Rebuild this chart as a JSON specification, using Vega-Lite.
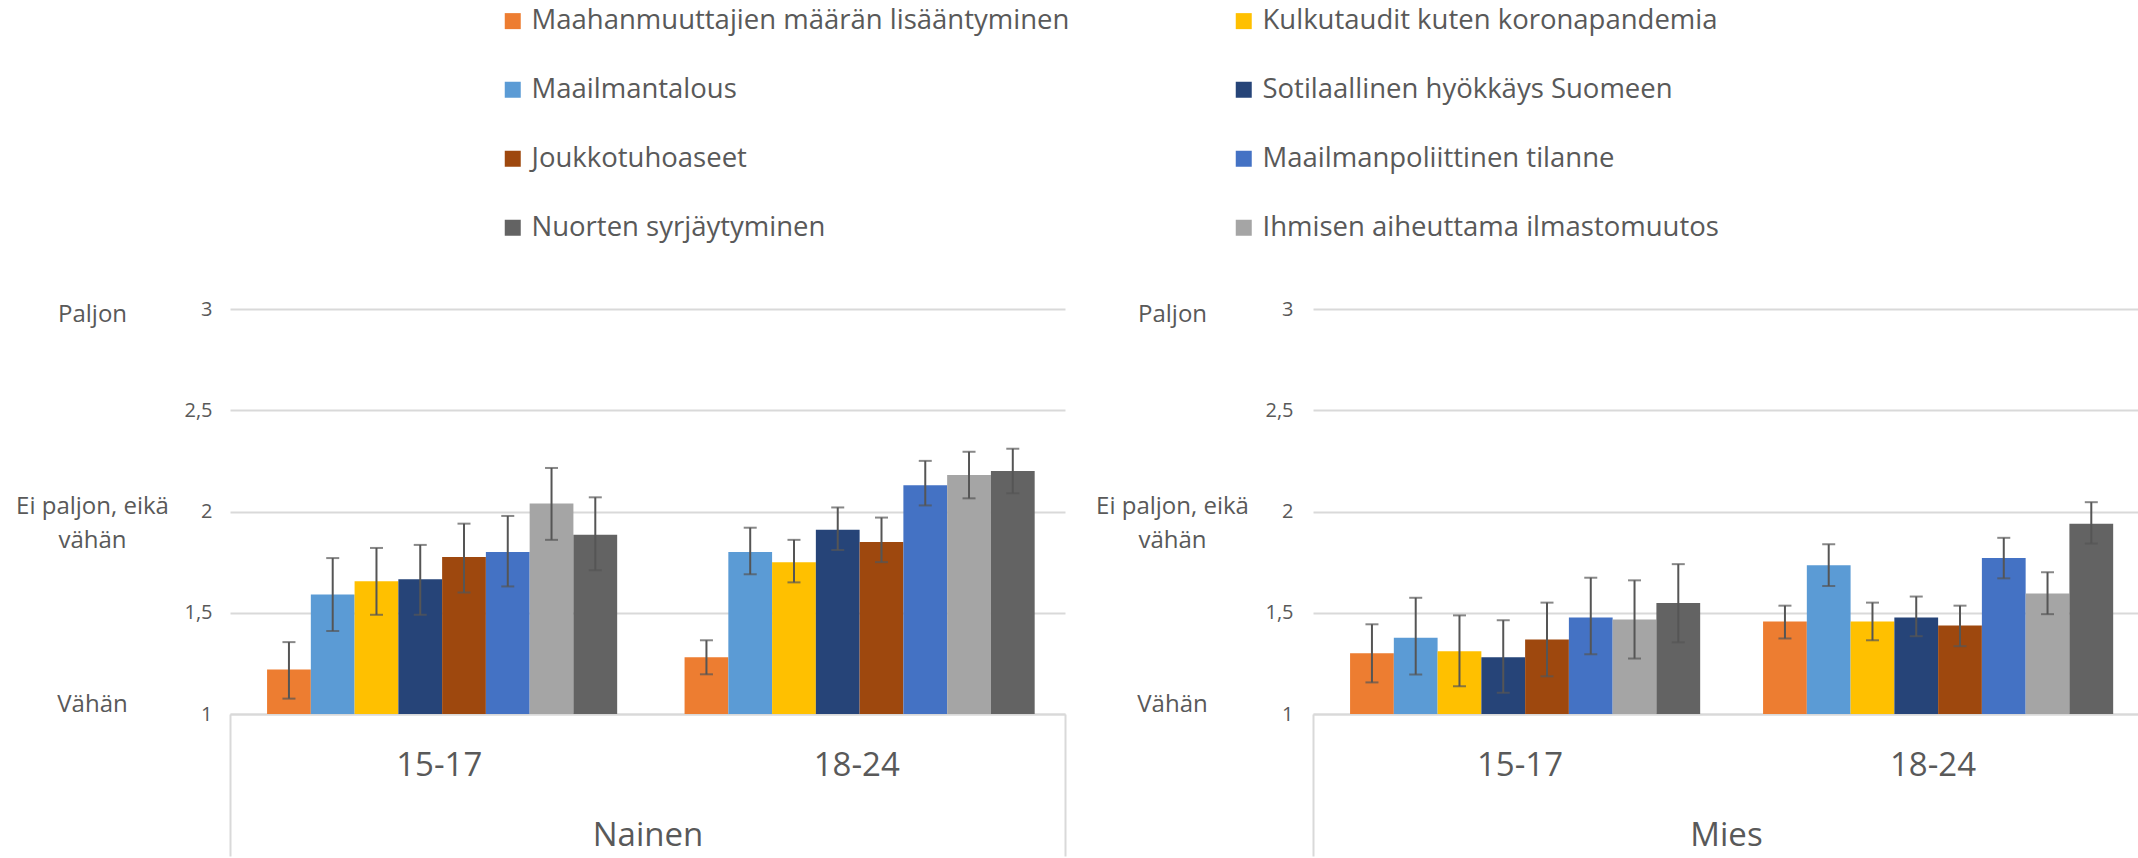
{
  "$schema": "https://vega.github.io/schema/vega-lite/v6.json",
  "padding": {"left": 15, "top": 7, "right": 0, "bottom": 0},
  "background": "white",
  "config": {
    "font": "Open Sans",
    "view": {"stroke": null},
    "axis": {"labelFont": "Open Sans", "titleFont": "Open Sans"},
    "legend": {"labelFont": "Open Sans"}
  },
  "datasets": {
    "d": [
      {"g": "Nainen", "a": "15-17", "s": "Maahanmuuttajien määrän lisääntyminen", "v": 1.22, "lo": 1.076, "hi": 1.355},
      {"g": "Nainen", "a": "15-17", "s": "Maailmantalous", "v": 1.59, "lo": 1.41, "hi": 1.77},
      {"g": "Nainen", "a": "15-17", "s": "Kulkutaudit kuten koronapandemia", "v": 1.655, "lo": 1.49, "hi": 1.82},
      {"g": "Nainen", "a": "15-17", "s": "Sotilaallinen hyökkäys Suomeen", "v": 1.665, "lo": 1.49, "hi": 1.835},
      {"g": "Nainen", "a": "15-17", "s": "Joukkotuhoaseet", "v": 1.775, "lo": 1.6, "hi": 1.94},
      {"g": "Nainen", "a": "15-17", "s": "Maailmanpoliittinen tilanne", "v": 1.8, "lo": 1.63, "hi": 1.978},
      {"g": "Nainen", "a": "15-17", "s": "Ihmisen aiheuttama ilmastomuutos", "v": 2.04, "lo": 1.86, "hi": 2.215},
      {"g": "Nainen", "a": "15-17", "s": "Nuorten syrjäytyminen", "v": 1.885, "lo": 1.71, "hi": 2.07},
      {"g": "Nainen", "a": "18-24", "s": "Maahanmuuttajien määrän lisääntyminen", "v": 1.28, "lo": 1.196, "hi": 1.364},
      {"g": "Nainen", "a": "18-24", "s": "Maailmantalous", "v": 1.8, "lo": 1.69, "hi": 1.92},
      {"g": "Nainen", "a": "18-24", "s": "Kulkutaudit kuten koronapandemia", "v": 1.75, "lo": 1.65, "hi": 1.86},
      {"g": "Nainen", "a": "18-24", "s": "Sotilaallinen hyökkäys Suomeen", "v": 1.91, "lo": 1.81, "hi": 2.02},
      {"g": "Nainen", "a": "18-24", "s": "Joukkotuhoaseet", "v": 1.85, "lo": 1.75, "hi": 1.97},
      {"g": "Nainen", "a": "18-24", "s": "Maailmanpoliittinen tilanne", "v": 2.13, "lo": 2.03, "hi": 2.25},
      {"g": "Nainen", "a": "18-24", "s": "Ihmisen aiheuttama ilmastomuutos", "v": 2.18, "lo": 2.065, "hi": 2.295},
      {"g": "Nainen", "a": "18-24", "s": "Nuorten syrjäytyminen", "v": 2.2, "lo": 2.09, "hi": 2.31},
      {"g": "Mies", "a": "15-17", "s": "Maahanmuuttajien määrän lisääntyminen", "v": 1.3, "lo": 1.156, "hi": 1.443},
      {"g": "Mies", "a": "15-17", "s": "Maailmantalous", "v": 1.376, "lo": 1.195, "hi": 1.574},
      {"g": "Mies", "a": "15-17", "s": "Kulkutaudit kuten koronapandemia", "v": 1.31, "lo": 1.137, "hi": 1.487},
      {"g": "Mies", "a": "15-17", "s": "Sotilaallinen hyökkäys Suomeen", "v": 1.28, "lo": 1.105, "hi": 1.463},
      {"g": "Mies", "a": "15-17", "s": "Joukkotuhoaseet", "v": 1.368, "lo": 1.186, "hi": 1.55},
      {"g": "Mies", "a": "15-17", "s": "Maailmanpoliittinen tilanne", "v": 1.477, "lo": 1.295, "hi": 1.673},
      {"g": "Mies", "a": "15-17", "s": "Ihmisen aiheuttama ilmastomuutos", "v": 1.467, "lo": 1.274, "hi": 1.66},
      {"g": "Mies", "a": "15-17", "s": "Nuorten syrjäytyminen", "v": 1.548, "lo": 1.354, "hi": 1.74},
      {"g": "Mies", "a": "18-24", "s": "Maahanmuuttajien määrän lisääntyminen", "v": 1.457, "lo": 1.373, "hi": 1.535},
      {"g": "Mies", "a": "18-24", "s": "Maailmantalous", "v": 1.734, "lo": 1.632, "hi": 1.838},
      {"g": "Mies", "a": "18-24", "s": "Kulkutaudit kuten koronapandemia", "v": 1.457, "lo": 1.364, "hi": 1.55},
      {"g": "Mies", "a": "18-24", "s": "Sotilaallinen hyökkäys Suomeen", "v": 1.477, "lo": 1.384, "hi": 1.58},
      {"g": "Mies", "a": "18-24", "s": "Joukkotuhoaseet", "v": 1.437, "lo": 1.335, "hi": 1.535},
      {"g": "Mies", "a": "18-24", "s": "Maailmanpoliittinen tilanne", "v": 1.77, "lo": 1.67, "hi": 1.87},
      {"g": "Mies", "a": "18-24", "s": "Ihmisen aiheuttama ilmastomuutos", "v": 1.595, "lo": 1.493, "hi": 1.7},
      {"g": "Mies", "a": "18-24", "s": "Nuorten syrjäytyminen", "v": 1.94, "lo": 1.842, "hi": 2.046}
    ]
  },
  "data": {"name": "d"},
  "bounds": "flush",
  "spacing": 248,
  "hconcat": [
    {
      "width": 835,
      "height": 405,
      "transform": [{"filter": "datum.g === 'Nainen'"}],
      "layer": [
        {
          "layer": [
            {
              "mark": {"type": "bar"},
              "encoding": {
                "x": {"field": "a", "type": "nominal", "title": "Nainen",
                  "scale": {"paddingInner": 0, "paddingOuter": 0},
                  "axis": {"labelAngle": 0, "labelFontSize": 33, "labelColor": "#595959", "labelPadding": -107,
                    "titleFontSize": 33, "titleFontWeight": "normal", "titleColor": "#595959", "titlePadding": -38,
                    "domainColor": "#d9d9d9", "domainWidth": 2, "tickBand": "extent", "tickSize": 142, "tickWidth": 2,
                    "tickColor": {"condition": {"test": "datum.index == 0", "value": "rgba(0,0,0,0)"}, "value": "#d9d9d9"}}},
                "xOffset": {"field": "s", "type": "nominal",
                  "scale": {"domain": ["Maahanmuuttajien määrän lisääntyminen", "Maailmantalous", "Kulkutaudit kuten koronapandemia", "Sotilaallinen hyökkäys Suomeen", "Joukkotuhoaseet", "Maailmanpoliittinen tilanne", "Ihmisen aiheuttama ilmastomuutos", "Nuorten syrjäytyminen"], "paddingInner": 0, "paddingOuter": 0.77}},
                "y": {"field": "v", "type": "quantitative", "title": null,
                  "scale": {"domain": [1, 3], "nice": false, "zero": false},
                  "axis": {"values": [1, 1.5, 2, 2.5, 3], "labelExpr": "replace(toString(datum.value), '.', ',')",
                    "ticks": false, "domain": false, "grid": true, "gridColor": "#d9d9d9", "gridWidth": 2,
                    "labelFontSize": 20, "labelColor": "#595959", "labelPadding": 18}},
                "y2": {"datum": 1},
                "color": {"field": "s", "type": "nominal",
                  "scale": {"domain": ["Maahanmuuttajien määrän lisääntyminen", "Maailmantalous", "Joukkotuhoaseet", "Nuorten syrjäytyminen", "Kulkutaudit kuten koronapandemia", "Sotilaallinen hyökkäys Suomeen", "Maailmanpoliittinen tilanne", "Ihmisen aiheuttama ilmastomuutos"],
                    "range": ["#ED7D31", "#5B9BD5", "#9E480E", "#636363", "#FFC000", "#264478", "#4472C4", "#A5A5A5"]},
                  "legend": {"orient": "none", "legendX": 269, "legendY": -302, "columns": 2, "title": null,
                    "symbolType": "square", "symbolSize": 256, "symbolStrokeWidth": 0,
                    "labelFontSize": 27.5, "labelColor": "#595959", "labelLimit": 2000, "labelOffset": 5,
                    "rowPadding": 40, "columnPadding": 160, "padding": 0}}
              }
            },
            {
              "mark": {"type": "rule", "color": "#555555", "strokeWidth": 2},
              "encoding": {
                "x": {"field": "a", "type": "nominal", "title": "Nainen"},
                "xOffset": {"field": "s", "type": "nominal"},
                "y": {"field": "lo", "type": "quantitative", "title": null},
                "y2": {"field": "hi"}
              }
            },
            {
              "mark": {"type": "tick", "color": "#555555", "thickness": 2, "size": 13},
              "encoding": {
                "x": {"field": "a", "type": "nominal", "title": "Nainen"},
                "xOffset": {"field": "s", "type": "nominal"},
                "y": {"field": "lo", "type": "quantitative", "title": null}
              }
            },
            {
              "mark": {"type": "tick", "color": "#555555", "thickness": 2, "size": 13},
              "encoding": {
                "x": {"field": "a", "type": "nominal", "title": "Nainen"},
                "xOffset": {"field": "s", "type": "nominal"},
                "y": {"field": "hi", "type": "quantitative", "title": null}
              }
            }
          ]
        },
        {
          "mark": {"type": "point", "opacity": 0},
          "encoding": {
            "y": {"field": "v", "type": "quantitative", "title": null,
              "scale": {"domain": [1, 3], "nice": false, "zero": false},
              "axis": {"orient": "left", "values": [1, 2, 3],
                "labelExpr": "datum.value == 3 ? 'Paljon' : datum.value == 2 ? ['Ei paljon, eikä', 'vähän'] : 'Vähän'",
                "ticks": false, "domain": false, "grid": false, "labelFontSize": 24, "labelColor": "#595959",
                "labelAlign": "center", "labelPadding": 138, "labelLineHeight": 34,
                "labelOffset": {"condition": [{"test": "datum.value == 3", "value": 5}, {"test": "datum.value == 2", "value": -5}], "value": -10}}}
          }
        }
      ],
      "resolve": {"scale": {"y": "independent"}}
    },
    {
      "width": 826,
      "height": 405,
      "transform": [{"filter": "datum.g === 'Mies'"}],
      "layer": [
        {
          "layer": [
            {
              "mark": {"type": "bar"},
              "encoding": {
                "x": {"field": "a", "type": "nominal", "title": "Mies",
                  "scale": {"paddingInner": 0, "paddingOuter": 0},
                  "axis": {"labelAngle": 0, "labelFontSize": 33, "labelColor": "#595959", "labelPadding": -107,
                    "titleFontSize": 33, "titleFontWeight": "normal", "titleColor": "#595959", "titlePadding": -38,
                    "domainColor": "#d9d9d9", "domainWidth": 2, "tickBand": "extent", "tickSize": 142, "tickWidth": 2,
                    "tickColor": {"condition": {"test": "datum.index >= 0", "value": "rgba(0,0,0,0)"}, "value": "#d9d9d9"}}},
                "xOffset": {"field": "s", "type": "nominal",
                  "scale": {"domain": ["Maahanmuuttajien määrän lisääntyminen", "Maailmantalous", "Kulkutaudit kuten koronapandemia", "Sotilaallinen hyökkäys Suomeen", "Joukkotuhoaseet", "Maailmanpoliittinen tilanne", "Ihmisen aiheuttama ilmastomuutos", "Nuorten syrjäytyminen"], "paddingInner": 0, "paddingOuter": 0.706, "align": 0.55}},
                "y": {"field": "v", "type": "quantitative", "title": null,
                  "scale": {"domain": [1, 3], "nice": false, "zero": false},
                  "axis": {"values": [1, 1.5, 2, 2.5, 3], "labelExpr": "replace(toString(datum.value), '.', ',')",
                    "ticks": false, "domain": false, "grid": true, "gridColor": "#d9d9d9", "gridWidth": 2,
                    "labelFontSize": 20, "labelColor": "#595959", "labelPadding": 20}},
                "y2": {"datum": 1},
                "color": {"field": "s", "type": "nominal",
                  "scale": {"domain": ["Maahanmuuttajien määrän lisääntyminen", "Maailmantalous", "Joukkotuhoaseet", "Nuorten syrjäytyminen", "Kulkutaudit kuten koronapandemia", "Sotilaallinen hyökkäys Suomeen", "Maailmanpoliittinen tilanne", "Ihmisen aiheuttama ilmastomuutos"],
                    "range": ["#ED7D31", "#5B9BD5", "#9E480E", "#636363", "#FFC000", "#264478", "#4472C4", "#A5A5A5"]},
                  "legend": {"orient": "none", "legendX": 269, "legendY": -302, "columns": 2, "title": null,
                    "symbolType": "square", "symbolSize": 256, "symbolStrokeWidth": 0,
                    "labelFontSize": 27.5, "labelColor": "#595959", "labelLimit": 2000, "labelOffset": 5,
                    "rowPadding": 40, "columnPadding": 160, "padding": 0}}
              }
            },
            {
              "mark": {"type": "rule", "color": "#555555", "strokeWidth": 2},
              "encoding": {
                "x": {"field": "a", "type": "nominal", "title": "Mies"},
                "xOffset": {"field": "s", "type": "nominal"},
                "y": {"field": "lo", "type": "quantitative", "title": null},
                "y2": {"field": "hi"}
              }
            },
            {
              "mark": {"type": "tick", "color": "#555555", "thickness": 2, "size": 13},
              "encoding": {
                "x": {"field": "a", "type": "nominal", "title": "Mies"},
                "xOffset": {"field": "s", "type": "nominal"},
                "y": {"field": "lo", "type": "quantitative", "title": null}
              }
            },
            {
              "mark": {"type": "tick", "color": "#555555", "thickness": 2, "size": 13},
              "encoding": {
                "x": {"field": "a", "type": "nominal", "title": "Mies"},
                "xOffset": {"field": "s", "type": "nominal"},
                "y": {"field": "hi", "type": "quantitative", "title": null}
              }
            }
          ]
        },
        {
          "mark": {"type": "point", "opacity": 0},
          "encoding": {
            "y": {"field": "v", "type": "quantitative", "title": null,
              "scale": {"domain": [1, 3], "nice": false, "zero": false},
              "axis": {"orient": "left", "values": [1, 2, 3],
                "labelExpr": "datum.value == 3 ? 'Paljon' : datum.value == 2 ? ['Ei paljon, eikä', 'vähän'] : 'Vähän'",
                "ticks": false, "domain": false, "grid": false, "labelFontSize": 24, "labelColor": "#595959",
                "labelAlign": "center", "labelPadding": 141, "labelLineHeight": 34,
                "labelOffset": {"condition": [{"test": "datum.value == 3", "value": 5}, {"test": "datum.value == 2", "value": -5}], "value": -10}}}
          }
        }
      ],
      "resolve": {"scale": {"y": "independent"}}
    }
  ]
}
